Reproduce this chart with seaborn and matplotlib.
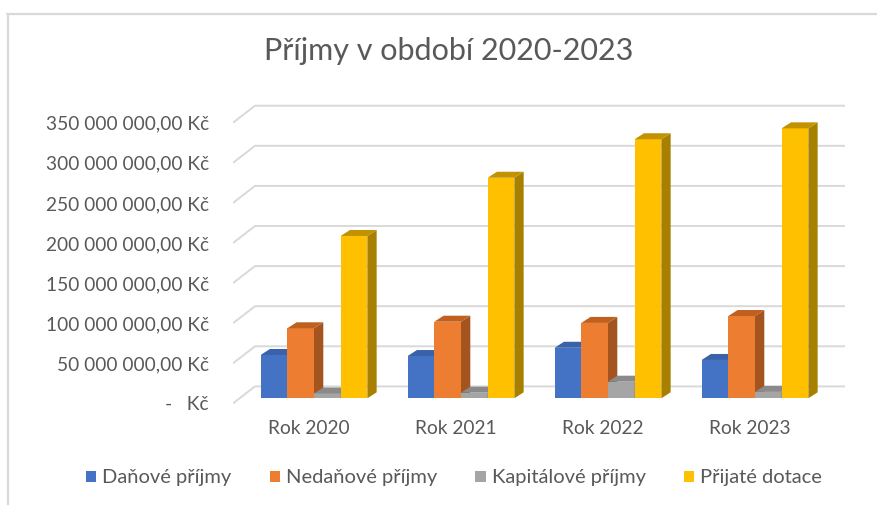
import pandas as pd
import numpy as np
import matplotlib.pyplot as plt
import seaborn as sns
from matplotlib.patches import Polygon, Patch
from matplotlib.lines import Line2D
import matplotlib.transforms as mtransforms

# --- data (Kč) ---
roky = ['Rok 2020', 'Rok 2021', 'Rok 2022', 'Rok 2023']
typy = ['Daňové příjmy', 'Nedaňové příjmy', 'Kapitálové příjmy', 'Přijaté dotace']
danove = [54_000_000, 52_700_000, 63_000_000, 47_800_000]
nedanove = [87_300_000, 95_500_000, 94_000_000, 102_600_000]
kapitalove = [6_000_000, 7_000_000, 20_700_000, 8_000_000]
dotace = [202_400_000, 275_000_000, 323_000_000, 336_600_000]
osa_hodnoty = [0, 50e6, 100e6, 150e6, 200e6, 250e6, 300e6, 350e6]

barvy = ['#4472C4', '#ED7D31', '#A5A5A5', '#FFC000']
bocni = ['#2F528F', '#A3541F', '#7A7A7A', '#A88000']
horni = ['#3A62AA', '#C0601F', '#8A8A8A', '#C29200']

df = pd.DataFrame({
    'rok': np.repeat(roky, 4),
    'typ': typy * 4,
    'castka': np.array([danove, nedanove, kapitalove, dotace]).T.ravel(),
})

sns.set_theme(style="white")
plt.rcParams['font.family'] = ['Lato', 'DejaVu Sans']
text_col = '#595959'

W, H = 877, 505
fig = plt.figure(figsize=(W / 100, H / 100), dpi=100)

# pixel geometry of the plot (oblique 3D look)
px_left, px_right, px_top, px_bottom = 233, 845, 100, 405
x0_px, cat_px = 314, 147          # centre of first group, group spacing
zero_px, px_per_kc = 398.3, 40.1 / 50e6
back_off = (398.3 - 386.4) / px_per_kc   # back wall shift (Kč)
front_off = (398.3 - 403.4) / px_per_kc  # front edge shift (Kč)
back_x = (255 - x0_px) / cat_px
ddx = 9.3 / cat_px
ddy = 6 / px_per_kc

ax = fig.add_axes([px_left / W, 1 - px_bottom / H,
                   (px_right - px_left) / W, (px_bottom - px_top) / H])

sns.barplot(data=df, x='rok', y='castka', hue='typ', hue_order=typy,
            palette=barvy, width=0.726, gap=0, legend=False,
            linewidth=0, saturation=1, ax=ax, zorder=2)

xl = ((px_left - x0_px) / cat_px, (px_right - x0_px) / cat_px)
ax.set_xlim(*xl)
ax.set_ylim(-(px_bottom - zero_px) / px_per_kc, (zero_px - px_top) / px_per_kc)

# gridlines: back wall + left side wall
for v in osa_hodnoty:
    ax.plot([xl[0], back_x, xl[1]], [v + front_off, v + back_off, v + back_off],
            color='#D9D9D9', lw=1.4, zorder=0.5, solid_capstyle='butt')

# add 3D side and top faces to each bar
bars = [p for p in ax.patches]
for i, bar in enumerate(bars):
    k = i // len(roky)
    x = bar.get_x()
    w = bar.get_width()
    h = bar.get_height()
    z = 2 + x * 0.01
    bar.set_zorder(z)
    side = Polygon([(x + w, 0), (x + w + ddx, ddy), (x + w + ddx, h + ddy), (x + w, h)],
                   closed=True, facecolor=bocni[k], edgecolor='none', zorder=z)
    top = Polygon([(x, h), (x + ddx, h + ddy), (x + w + ddx, h + ddy), (x + w, h)],
                  closed=True, facecolor=horni[k], edgecolor='none', zorder=z)
    ax.add_patch(side)
    ax.add_patch(top)

ax.set_yticks([v + front_off for v in osa_hodnoty])
ax.set_yticklabels(['-   Kč' if v == 0 else
                    f"{v:,.2f}".replace(',', ' ').replace('.', ',') + ' Kč'
                    for v in osa_hodnoty])
ax.set_xlabel('')
ax.set_ylabel('')
ax.tick_params(axis='y', length=0, pad=17.3, labelsize=13.8, labelcolor=text_col)
ax.tick_params(axis='x', length=0, pad=11, labelsize=13.8, labelcolor=text_col)
off = mtransforms.ScaledTranslation(-5 / 100, 0, fig.dpi_scale_trans)
for lab in ax.get_xticklabels():
    lab.set_transform(lab.get_transform() + off)
sns.despine(ax=ax, left=True, bottom=True)

fig.text(449 / W, 1 - 51 / H, 'Příjmy v období 2020-2023', ha='center', va='center',
         fontsize=22, color=text_col)

handles = [Patch(facecolor=c, edgecolor='none') for c in barvy]
fig.legend(handles, typy, loc='center', bbox_to_anchor=(454 / W, 1 - 478 / H),
           ncol=4, frameon=False, fontsize=14.5, labelcolor=text_col,
           handlelength=0.5, handleheight=0.5, handletextpad=0.3, columnspacing=1.9)

# chart border (top and left visible)
fig.add_artist(Line2D([7 / W, 1], [1 - 14 / H, 1 - 14 / H], color='#D9D9D9', lw=1.6))
fig.add_artist(Line2D([8 / W, 8 / W], [0, 1 - 14 / H], color='#D9D9D9', lw=1.6))

fig.savefig('out.png', dpi=100)
